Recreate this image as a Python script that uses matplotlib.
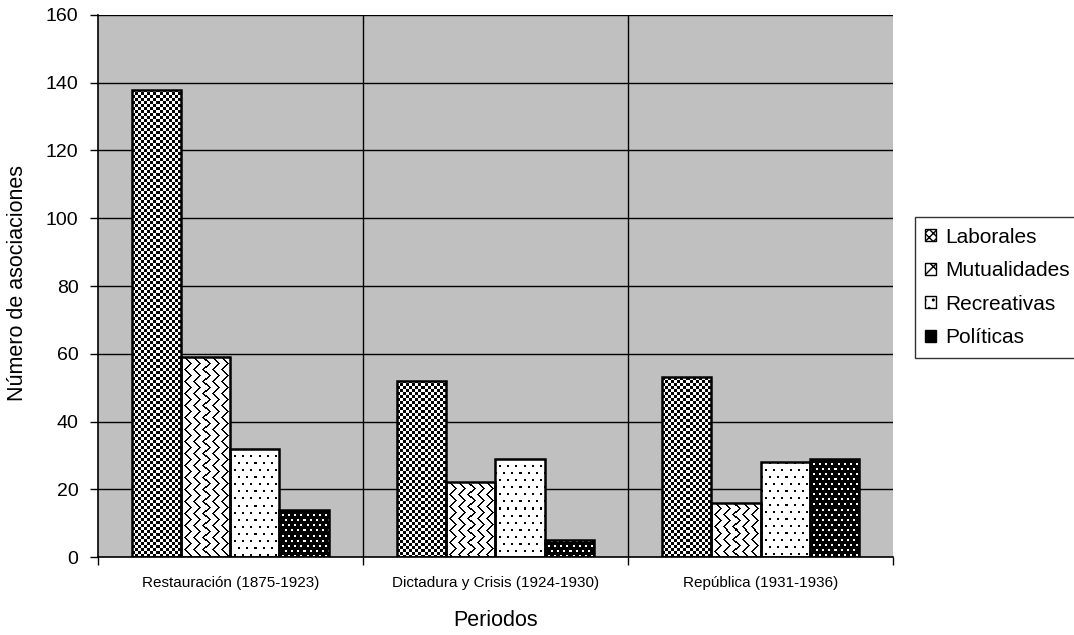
import numpy as np
import matplotlib.pyplot as plt
from matplotlib.patches import Patch

plt.rcParams['font.family'] = ['Liberation Sans', 'DejaVu Sans']

periodos = ['Restauración (1875-1923)', 'Dictadura y Crisis (1924-1930)', 'República (1931-1936)']
tipos = ['Laborales', 'Mutualidades', 'Recreativas', 'Políticas']
laborales = [138, 52, 53]
mutualidades = [59, 22, 16]
recreativas = [32, 29, 28]
politicas = [14, 5, 29]
series = [laborales, mutualidades, recreativas, politicas]


def tramado(kind, ny, nx):
    # pixel textures for the bar fills (0 = black, 1 = white)
    i, j = np.mgrid[0:ny, 0:nx]
    if kind == 0:
        black = ((i // 3 + j // 3) % 2) == 0
    elif kind == 1:
        tri = np.abs((i % 12) - 6)
        black = ((j + tri) % 9) < 2
    elif kind == 2:
        off = ((i // 7) % 2) * 4
        black = ((i % 7) < 2) & (((j + off) % 8) < 2)
    else:
        off = ((i // 5) % 2) * 3
        black = ~(((i % 5) < 2) & (((j + off) % 6) < 2))
    return np.where(black, 0.0, 1.0)


fig = plt.figure(figsize=(10.74, 6.35), dpi=100)
ax = fig.add_axes([0.0912, 0.1228, 0.7403, 0.8536])
ax.set_facecolor('#c0c0c0')

ymax = 160
px_x = 0.7403 * 1074 / 3
px_y = 0.8536 * 635 / ymax

w = 0.185
x = np.arange(len(periodos))
for k, vals in enumerate(series):
    pos = x + (k - 1.5) * w
    bars = ax.bar(pos, vals, w, facecolor='none', edgecolor='black', linewidth=1.8, zorder=3)
    for b, v, p in zip(bars, vals, pos):
        nx = max(int(round(w * px_x)), 1)
        ny = max(int(round(v * px_y)), 1)
        im = ax.imshow(tramado(k, ny, nx), cmap='gray', vmin=0, vmax=1,
                       extent=(p - w / 2, p + w / 2, 0, v), origin='upper',
                       interpolation='nearest', aspect='auto', zorder=2.5)
        im.set_clip_path(b)

ax.set_xlim(-0.5, 2.5)
ax.set_ylim(0, ymax)
ax.set_yticks(range(0, 161, 20))
for yv in range(20, 161, 20):
    ax.axhline(yv, color='black', linewidth=1, zorder=1)
for xv in [0.5, 1.5]:
    ax.axvline(xv, color='black', linewidth=1, zorder=1)

ax.set_xticks(x)
ax.set_xticklabels(periodos, fontsize=11)
ax.set_xticks([-0.5, 0.5, 1.5, 2.5], minor=True)
ax.tick_params(axis='x', which='major', length=0, pad=14)
ax.tick_params(axis='x', which='minor', length=6, width=1)
ax.tick_params(axis='y', labelsize=14, length=6, width=1, pad=8)

for s in ['top', 'right']:
    ax.spines[s].set_visible(False)
ax.spines['left'].set_linewidth(1.2)
ax.spines['bottom'].set_linewidth(1.2)

fig.text(18 / 1074, 1 - 283 / 635, 'Número de asociaciones', rotation=90,
         ha='center', va='center', fontsize=15.5)
fig.text(496 / 1074, 1 - 620 / 635, 'Periodos', ha='center', va='center', fontsize=15.5)

handles = [
    Patch(facecolor='white', edgecolor='black', hatch='xxxx'),
    Patch(facecolor='white', edgecolor='black', hatch='\\\\//'),
    Patch(facecolor='white', edgecolor='black', hatch='..'),
    Patch(facecolor='black', edgecolor='black'),
]
leg = fig.legend(handles, tipos, loc='upper left', bbox_to_anchor=(0.852, 0.658),
                 fontsize=15, frameon=True, fancybox=False, edgecolor='black',
                 handlelength=0.5, handleheight=0.5, handletextpad=0.45,
                 labelspacing=0.7, borderpad=0.5, borderaxespad=0)
leg.get_frame().set_linewidth(1)

fig.savefig('out.png', dpi=100)
